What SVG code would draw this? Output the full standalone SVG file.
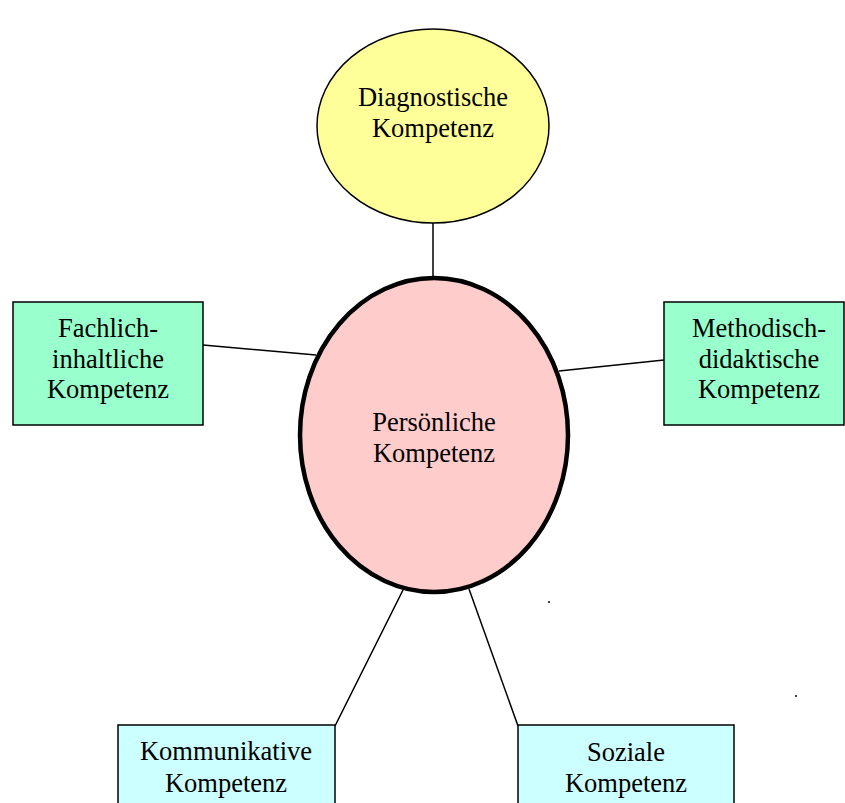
<svg xmlns="http://www.w3.org/2000/svg" width="845" height="803" viewBox="0 0 845 803">
  <style>
    .lbl { font-family: "Liberation Serif", "Times New Roman", serif; font-size: 26.5px; fill: #000; text-anchor: middle; }
    .edge { stroke: #000; stroke-width: 1.5; fill: none; }
    .box { stroke: #000; stroke-width: 1.5; }
  </style>
  <rect width="845" height="803" fill="#fff"/>
  <g id="connectors">
    <line class="edge" x1="433" y1="222" x2="433" y2="277"/>
    <line class="edge" x1="203" y1="345" x2="316" y2="355"/>
    <line class="edge" x1="559" y1="371" x2="664" y2="360"/>
    <line class="edge" x1="335" y1="726" x2="403" y2="590"/>
    <line class="edge" x1="518" y1="726" x2="469" y2="589"/>
  </g>
  <g id="diagnostische">
    <ellipse cx="433" cy="126" rx="116" ry="97" fill="#FFFF99" class="box"/>
    <text class="lbl" x="433" y="106">Diagnostische</text>
    <text class="lbl" x="433" y="137">Kompetenz</text>
  </g>
  <g id="persoenliche">
    <ellipse cx="434" cy="435" rx="134" ry="157" fill="#FFCCCC" stroke="#000" stroke-width="4.5"/>
    <text class="lbl" x="434" y="431">Persönliche</text>
    <text class="lbl" x="434" y="462">Kompetenz</text>
  </g>
  <g id="fachlich">
    <rect x="13" y="302" width="190" height="123" fill="#99FFCC" class="box"/>
    <text class="lbl" x="108" y="337">Fachlich-</text>
    <text class="lbl" x="108" y="368">inhaltliche</text>
    <text class="lbl" x="108" y="398">Kompetenz</text>
  </g>
  <g id="methodisch">
    <rect x="664" y="302" width="180" height="123" fill="#99FFCC" class="box"/>
    <text class="lbl" x="759" y="337">Methodisch-</text>
    <text class="lbl" x="759" y="368">didaktische</text>
    <text class="lbl" x="759" y="398">Kompetenz</text>
  </g>
  <g id="kommunikativ">
    <rect x="118" y="725" width="217" height="90" fill="#CCFFFF" class="box"/>
    <text class="lbl" x="226" y="760">Kommunikative</text>
    <text class="lbl" x="226" y="792">Kompetenz</text>
  </g>
  <g id="sozial">
    <rect x="518" y="725" width="216" height="90" fill="#CCFFFF" class="box"/>
    <text class="lbl" x="626" y="761">Soziale</text>
    <text class="lbl" x="626" y="792">Kompetenz</text>
  </g>
  <g id="dots" fill="#000">
    <circle cx="549" cy="602" r="1"/>
    <circle cx="796" cy="696" r="1"/>
  </g>
</svg>
